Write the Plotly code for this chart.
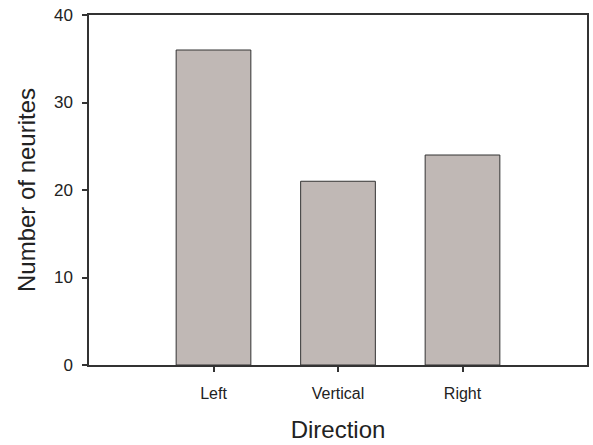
import plotly.graph_objects as go

# Neurite counts by growth direction
directions = ["Left", "Vertical", "Right"]
positions = [1, 2, 3]
neurite_counts = [36, 21, 24]
y_ticks = [0, 10, 20, 30, 40]

fig = go.Figure(
    go.Bar(
        x=positions,
        y=neurite_counts,
        width=0.6,
        marker=dict(color="#c0b8b5", line=dict(color="#333333", width=1)),
    )
)

axis_common = dict(
    showline=True,
    linecolor="#333333",
    linewidth=1.5,
    mirror=True,
    ticks="outside",
    ticklen=5,
    tickwidth=1.5,
    tickcolor="#333333",
    showgrid=False,
    zeroline=False,
)

fig.update_layout(
    width=593,
    height=445,
    margin=dict(l=89, r=4, t=15, b=80),
    paper_bgcolor="white",
    plot_bgcolor="white",
    font=dict(family="Liberation Sans, Arial, sans-serif", color="#222222"),
    showlegend=False,
    xaxis=dict(
        axis_common,
        range=[0, 4],
        tickvals=positions,
        ticktext=directions,
        tickfont=dict(size=16),
        ticklabelstandoff=8,
        title=dict(text="Direction", font=dict(size=24), standoff=20),
    ),
    yaxis=dict(
        axis_common,
        range=[0, 40],
        tickvals=y_ticks,
        tickfont=dict(size=17),
        ticklabelstandoff=6,
        title=dict(text="Number of neurites", font=dict(size=24), standoff=12),
    ),
)

fig.write_html("out.html")
